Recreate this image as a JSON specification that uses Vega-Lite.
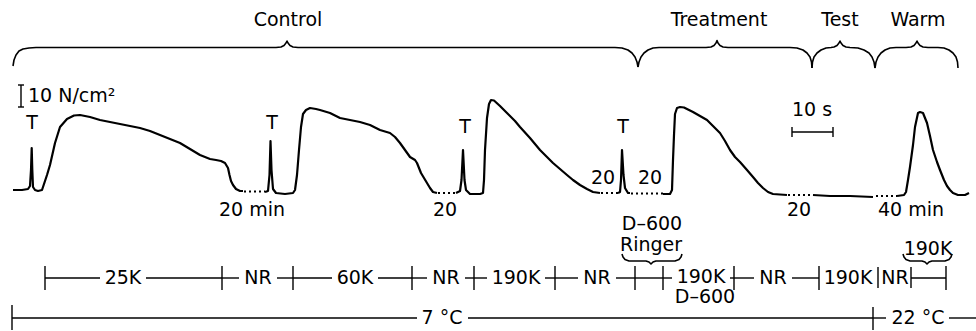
{
  "$schema": "https://vega.github.io/schema/vega-lite/v6.json",
  "width": 976,
  "height": 331,
  "padding": 0,
  "autosize": {"type": "none"},
  "background": "white",
  "config": {"view": {"stroke": null}},
  "datasets": {
    "trace": [
      {"g": "a", "x": 13, "y": 190}, {"g": "a", "x": 22, "y": 190}, {"g": "a", "x": 28, "y": 189}, {"g": "a", "x": 30, "y": 186},
      {"g": "a", "x": 31, "y": 170}, {"g": "a", "x": 31.7, "y": 148}, {"g": "a", "x": 32.3, "y": 170}, {"g": "a", "x": 33, "y": 187},
      {"g": "a", "x": 35, "y": 190}, {"g": "a", "x": 38, "y": 191}, {"g": "a", "x": 42, "y": 190}, {"g": "a", "x": 43, "y": 187},
      {"g": "a", "x": 47, "y": 175}, {"g": "a", "x": 50, "y": 165}, {"g": "a", "x": 55, "y": 143}, {"g": "a", "x": 60, "y": 127},
      {"g": "a", "x": 67, "y": 119}, {"g": "a", "x": 74, "y": 115.5}, {"g": "a", "x": 80, "y": 115}, {"g": "a", "x": 90, "y": 117},
      {"g": "a", "x": 100, "y": 120}, {"g": "a", "x": 110, "y": 122}, {"g": "a", "x": 120, "y": 124}, {"g": "a", "x": 130, "y": 126},
      {"g": "a", "x": 140, "y": 128}, {"g": "a", "x": 150, "y": 131}, {"g": "a", "x": 160, "y": 135}, {"g": "a", "x": 170, "y": 139},
      {"g": "a", "x": 180, "y": 143}, {"g": "a", "x": 190, "y": 149}, {"g": "a", "x": 200, "y": 155}, {"g": "a", "x": 210, "y": 159},
      {"g": "a", "x": 216, "y": 160}, {"g": "a", "x": 221, "y": 161}, {"g": "a", "x": 225, "y": 163}, {"g": "a", "x": 228, "y": 168},
      {"g": "a", "x": 229.5, "y": 175}, {"g": "a", "x": 231, "y": 181}, {"g": "a", "x": 233, "y": 185}, {"g": "a", "x": 236, "y": 189},
      {"g": "a", "x": 240, "y": 191}, {"g": "a", "x": 243, "y": 191},
      {"g": "b", "x": 265, "y": 192}, {"g": "b", "x": 268, "y": 191}, {"g": "b", "x": 269.5, "y": 175}, {"g": "b", "x": 270.5, "y": 141},
      {"g": "b", "x": 271.5, "y": 170}, {"g": "b", "x": 273, "y": 189}, {"g": "b", "x": 276, "y": 193}, {"g": "b", "x": 285, "y": 194},
      {"g": "b", "x": 293, "y": 193}, {"g": "b", "x": 295, "y": 190}, {"g": "b", "x": 297, "y": 175}, {"g": "b", "x": 299, "y": 150},
      {"g": "b", "x": 301, "y": 127}, {"g": "b", "x": 303, "y": 114}, {"g": "b", "x": 306, "y": 110}, {"g": "b", "x": 310, "y": 108},
      {"g": "b", "x": 316, "y": 109}, {"g": "b", "x": 320, "y": 110}, {"g": "b", "x": 330, "y": 113}, {"g": "b", "x": 340, "y": 118},
      {"g": "b", "x": 350, "y": 120}, {"g": "b", "x": 360, "y": 122}, {"g": "b", "x": 370, "y": 125}, {"g": "b", "x": 380, "y": 130},
      {"g": "b", "x": 390, "y": 133}, {"g": "b", "x": 395, "y": 137}, {"g": "b", "x": 400, "y": 143}, {"g": "b", "x": 405, "y": 150},
      {"g": "b", "x": 410, "y": 157}, {"g": "b", "x": 415, "y": 160}, {"g": "b", "x": 417, "y": 163}, {"g": "b", "x": 419, "y": 168},
      {"g": "b", "x": 421, "y": 173}, {"g": "b", "x": 424, "y": 178}, {"g": "b", "x": 427, "y": 183}, {"g": "b", "x": 430, "y": 188},
      {"g": "b", "x": 433, "y": 192}, {"g": "b", "x": 437, "y": 193},
      {"g": "c", "x": 456, "y": 193}, {"g": "c", "x": 460, "y": 191}, {"g": "c", "x": 461.5, "y": 180}, {"g": "c", "x": 463, "y": 150},
      {"g": "c", "x": 464.5, "y": 180}, {"g": "c", "x": 466, "y": 190}, {"g": "c", "x": 470, "y": 194}, {"g": "c", "x": 480, "y": 194},
      {"g": "c", "x": 483, "y": 193}, {"g": "c", "x": 484, "y": 180}, {"g": "c", "x": 485, "y": 150}, {"g": "c", "x": 487, "y": 118},
      {"g": "c", "x": 489, "y": 104}, {"g": "c", "x": 491, "y": 100}, {"g": "c", "x": 494, "y": 100.5}, {"g": "c", "x": 500, "y": 106},
      {"g": "c", "x": 507, "y": 113}, {"g": "c", "x": 515, "y": 121}, {"g": "c", "x": 520, "y": 127}, {"g": "c", "x": 530, "y": 138},
      {"g": "c", "x": 540, "y": 150}, {"g": "c", "x": 547, "y": 157}, {"g": "c", "x": 553, "y": 163}, {"g": "c", "x": 560, "y": 169},
      {"g": "c", "x": 567, "y": 175}, {"g": "c", "x": 573, "y": 180}, {"g": "c", "x": 580, "y": 185}, {"g": "c", "x": 587, "y": 189},
      {"g": "c", "x": 593, "y": 192}, {"g": "c", "x": 600, "y": 193},
      {"g": "d", "x": 618, "y": 193}, {"g": "d", "x": 620, "y": 192}, {"g": "d", "x": 621, "y": 180}, {"g": "d", "x": 622, "y": 150},
      {"g": "d", "x": 623.5, "y": 175}, {"g": "d", "x": 625, "y": 188}, {"g": "d", "x": 628, "y": 193}, {"g": "d", "x": 630, "y": 193},
      {"g": "e", "x": 663, "y": 194}, {"g": "e", "x": 670, "y": 194}, {"g": "e", "x": 672, "y": 190}, {"g": "e", "x": 673, "y": 160},
      {"g": "e", "x": 674, "y": 135}, {"g": "e", "x": 675, "y": 114}, {"g": "e", "x": 677, "y": 108}, {"g": "e", "x": 680, "y": 107},
      {"g": "e", "x": 684, "y": 107.5}, {"g": "e", "x": 693, "y": 112}, {"g": "e", "x": 700, "y": 116}, {"g": "e", "x": 707, "y": 120},
      {"g": "e", "x": 713, "y": 126}, {"g": "e", "x": 720, "y": 133}, {"g": "e", "x": 725, "y": 141}, {"g": "e", "x": 730, "y": 150},
      {"g": "e", "x": 735, "y": 157}, {"g": "e", "x": 740, "y": 162}, {"g": "e", "x": 747, "y": 170}, {"g": "e", "x": 753, "y": 177},
      {"g": "e", "x": 758, "y": 183}, {"g": "e", "x": 763, "y": 188}, {"g": "e", "x": 768, "y": 192}, {"g": "e", "x": 773, "y": 194},
      {"g": "e", "x": 787, "y": 195},
      {"g": "f", "x": 813, "y": 195}, {"g": "f", "x": 830, "y": 196}, {"g": "f", "x": 850, "y": 196}, {"g": "f", "x": 873, "y": 197},
      {"g": "h", "x": 897, "y": 196}, {"g": "h", "x": 904, "y": 195}, {"g": "h", "x": 906, "y": 192}, {"g": "h", "x": 908, "y": 180},
      {"g": "h", "x": 910, "y": 167}, {"g": "h", "x": 913, "y": 145}, {"g": "h", "x": 915, "y": 127}, {"g": "h", "x": 918, "y": 113},
      {"g": "h", "x": 920, "y": 112}, {"g": "h", "x": 923, "y": 113}, {"g": "h", "x": 925, "y": 118}, {"g": "h", "x": 927, "y": 123},
      {"g": "h", "x": 930, "y": 136}, {"g": "h", "x": 933, "y": 150}, {"g": "h", "x": 937, "y": 162}, {"g": "h", "x": 940, "y": 170},
      {"g": "h", "x": 944, "y": 180}, {"g": "h", "x": 947, "y": 186}, {"g": "h", "x": 950, "y": 190}, {"g": "h", "x": 953, "y": 193},
      {"g": "h", "x": 958, "y": 195}, {"g": "h", "x": 965, "y": 195}, {"g": "h", "x": 969, "y": 193}
    ],
    "dots": [
      {"x": 244, "x2": 265, "y": 191.5},
      {"x": 438, "x2": 456, "y": 193},
      {"x": 601, "x2": 618, "y": 193},
      {"x": 631, "x2": 663, "y": 193.5},
      {"x": 788, "x2": 812, "y": 195},
      {"x": 876, "x2": 897, "y": 196}
    ],
    "braces": [
      {"g": "control", "x": 13, "y": 66}, {"g": "control", "x": 14, "y": 60}, {"g": "control", "x": 16, "y": 55}, {"g": "control", "x": 19, "y": 51},
      {"g": "control", "x": 23, "y": 49}, {"g": "control", "x": 29, "y": 48}, {"g": "control", "x": 36, "y": 47.5}, {"g": "control", "x": 276, "y": 47.5},
      {"g": "control", "x": 281, "y": 47}, {"g": "control", "x": 284, "y": 45.5}, {"g": "control", "x": 286, "y": 43}, {"g": "control", "x": 287, "y": 41},
      {"g": "control", "x": 288, "y": 43}, {"g": "control", "x": 290, "y": 45.5}, {"g": "control", "x": 293, "y": 47}, {"g": "control", "x": 298, "y": 47.5},
      {"g": "control", "x": 615, "y": 47.5}, {"g": "control", "x": 622, "y": 48}, {"g": "control", "x": 628, "y": 50}, {"g": "control", "x": 632, "y": 53},
      {"g": "control", "x": 635, "y": 57}, {"g": "control", "x": 637, "y": 62}, {"g": "control", "x": 638, "y": 67},
      {"g": "treat", "x": 638, "y": 67}, {"g": "treat", "x": 639, "y": 62}, {"g": "treat", "x": 641, "y": 57}, {"g": "treat", "x": 644, "y": 53},
      {"g": "treat", "x": 648, "y": 50}, {"g": "treat", "x": 653, "y": 48}, {"g": "treat", "x": 659, "y": 47.5}, {"g": "treat", "x": 706, "y": 47.5},
      {"g": "treat", "x": 711, "y": 47}, {"g": "treat", "x": 714, "y": 45.5}, {"g": "treat", "x": 716, "y": 43}, {"g": "treat", "x": 717, "y": 40.5},
      {"g": "treat", "x": 718, "y": 43}, {"g": "treat", "x": 720, "y": 45.5}, {"g": "treat", "x": 723, "y": 47}, {"g": "treat", "x": 728, "y": 47.5},
      {"g": "treat", "x": 790, "y": 47.5}, {"g": "treat", "x": 797, "y": 48}, {"g": "treat", "x": 803, "y": 50}, {"g": "treat", "x": 807, "y": 53},
      {"g": "treat", "x": 810, "y": 57}, {"g": "treat", "x": 811.5, "y": 62}, {"g": "treat", "x": 812, "y": 68},
      {"g": "test", "x": 812, "y": 68}, {"g": "test", "x": 812.5, "y": 62}, {"g": "test", "x": 814, "y": 57}, {"g": "test", "x": 817, "y": 53},
      {"g": "test", "x": 821, "y": 50}, {"g": "test", "x": 826, "y": 48}, {"g": "test", "x": 831, "y": 47.5}, {"g": "test", "x": 834, "y": 47},
      {"g": "test", "x": 837, "y": 45.5}, {"g": "test", "x": 839, "y": 43}, {"g": "test", "x": 840, "y": 41}, {"g": "test", "x": 841, "y": 43},
      {"g": "test", "x": 843, "y": 45.5}, {"g": "test", "x": 846, "y": 47}, {"g": "test", "x": 850, "y": 47.5}, {"g": "test", "x": 858, "y": 48},
      {"g": "test", "x": 864, "y": 50}, {"g": "test", "x": 869, "y": 53}, {"g": "test", "x": 872, "y": 57}, {"g": "test", "x": 874, "y": 62},
      {"g": "test", "x": 875, "y": 68},
      {"g": "warm", "x": 875, "y": 68}, {"g": "warm", "x": 876, "y": 62}, {"g": "warm", "x": 878, "y": 57}, {"g": "warm", "x": 881, "y": 53},
      {"g": "warm", "x": 885, "y": 50}, {"g": "warm", "x": 890, "y": 48}, {"g": "warm", "x": 896, "y": 47.5}, {"g": "warm", "x": 906, "y": 47.5},
      {"g": "warm", "x": 911, "y": 47}, {"g": "warm", "x": 914, "y": 45.5}, {"g": "warm", "x": 916, "y": 43}, {"g": "warm", "x": 917, "y": 41},
      {"g": "warm", "x": 918, "y": 43}, {"g": "warm", "x": 920, "y": 45.5}, {"g": "warm", "x": 923, "y": 47}, {"g": "warm", "x": 928, "y": 47.5},
      {"g": "warm", "x": 938, "y": 47.5}, {"g": "warm", "x": 944, "y": 48}, {"g": "warm", "x": 949, "y": 50}, {"g": "warm", "x": 953, "y": 53},
      {"g": "warm", "x": 956, "y": 57}, {"g": "warm", "x": 957.5, "y": 62}, {"g": "warm", "x": 958, "y": 68},
      {"g": "ringer", "x": 622, "y": 254}, {"g": "ringer", "x": 623, "y": 257}, {"g": "ringer", "x": 625, "y": 259.5}, {"g": "ringer", "x": 629, "y": 261},
      {"g": "ringer", "x": 646, "y": 261}, {"g": "ringer", "x": 649, "y": 262}, {"g": "ringer", "x": 651, "y": 264}, {"g": "ringer", "x": 653, "y": 262},
      {"g": "ringer", "x": 656, "y": 261}, {"g": "ringer", "x": 675, "y": 261}, {"g": "ringer", "x": 679, "y": 259.5}, {"g": "ringer", "x": 681, "y": 257},
      {"g": "ringer", "x": 682, "y": 254},
      {"g": "k190", "x": 903, "y": 254}, {"g": "k190", "x": 904, "y": 257}, {"g": "k190", "x": 906, "y": 259.5}, {"g": "k190", "x": 910, "y": 261},
      {"g": "k190", "x": 922, "y": 261}, {"g": "k190", "x": 925, "y": 262}, {"g": "k190", "x": 927, "y": 264}, {"g": "k190", "x": 929, "y": 262},
      {"g": "k190", "x": 932, "y": 261}, {"g": "k190", "x": 945, "y": 261}, {"g": "k190", "x": 949, "y": 259.5}, {"g": "k190", "x": 951, "y": 257},
      {"g": "k190", "x": 952, "y": 254}
    ],
    "hsegs": [
      {"x": 45, "x2": 100, "y": 278}, {"x": 146, "x2": 222, "y": 278}, {"x": 222, "x2": 239, "y": 278},
      {"x": 277, "x2": 293, "y": 278}, {"x": 293, "x2": 332, "y": 278}, {"x": 378, "x2": 412, "y": 278},
      {"x": 412, "x2": 427, "y": 278}, {"x": 465, "x2": 474, "y": 278}, {"x": 474, "x2": 487, "y": 278},
      {"x": 545, "x2": 555, "y": 278}, {"x": 555, "x2": 578, "y": 278}, {"x": 616, "x2": 635, "y": 278},
      {"x": 635, "x2": 663, "y": 278}, {"x": 663, "x2": 672, "y": 278}, {"x": 730, "x2": 734, "y": 278},
      {"x": 734, "x2": 754, "y": 278}, {"x": 792, "x2": 819, "y": 278}, {"x": 911, "x2": 946, "y": 278},
      {"x": 12, "x2": 417, "y": 318}, {"x": 468, "x2": 873, "y": 318}, {"x": 873, "x2": 886, "y": 318},
      {"x": 949, "x2": 976, "y": 318},
      {"x": 792, "x2": 833, "y": 132},
      {"x": 18, "x2": 24, "y": 85}, {"x": 18, "x2": 24, "y": 107}
    ],
    "vticks": [
      {"x": 45, "y": 266, "y2": 290}, {"x": 222, "y": 266, "y2": 290}, {"x": 293, "y": 266, "y2": 290},
      {"x": 412, "y": 266, "y2": 290}, {"x": 474, "y": 266, "y2": 290}, {"x": 555, "y": 266, "y2": 290},
      {"x": 635, "y": 266, "y2": 290}, {"x": 663, "y": 266, "y2": 290}, {"x": 734, "y": 266, "y2": 290},
      {"x": 819, "y": 266, "y2": 290}, {"x": 878, "y": 267, "y2": 288}, {"x": 911, "y": 267, "y2": 288},
      {"x": 946, "y": 266, "y2": 290},
      {"x": 12, "y": 305, "y2": 330}, {"x": 873, "y": 307, "y2": 330},
      {"x": 792, "y": 127, "y2": 137}, {"x": 833, "y": 127, "y2": 137},
      {"x": 21, "y": 85, "y2": 107}
    ],
    "texts": [
      {"x": 288, "y": 20, "t": "Control"}, {"x": 719, "y": 20, "t": "Treatment"},
      {"x": 840, "y": 20, "t": "Test"}, {"x": 918, "y": 20, "t": "Warm"},
      {"x": 32, "y": 123, "t": "T"}, {"x": 272, "y": 123, "t": "T"}, {"x": 465, "y": 127, "t": "T"}, {"x": 623, "y": 127, "t": "T"},
      {"x": 252, "y": 210, "t": "20 min"}, {"x": 445, "y": 210, "t": "20"}, {"x": 603, "y": 178, "t": "20"},
      {"x": 650, "y": 178, "t": "20"}, {"x": 799, "y": 210, "t": "20"}, {"x": 911, "y": 210, "t": "40 min"},
      {"x": 812, "y": 110, "t": "10 s"},
      {"x": 652, "y": 224, "t": "D–600"}, {"x": 651, "y": 245, "t": "Ringer"},
      {"x": 123, "y": 278, "t": "25K"}, {"x": 258, "y": 278, "t": "NR"}, {"x": 355, "y": 278, "t": "60K"},
      {"x": 446, "y": 278, "t": "NR"}, {"x": 516, "y": 278, "t": "190K"}, {"x": 597, "y": 278, "t": "NR"},
      {"x": 701, "y": 277, "t": "190K"}, {"x": 773, "y": 278, "t": "NR"}, {"x": 848, "y": 278, "t": "190K"},
      {"x": 895, "y": 278, "t": "NR"},
      {"x": 928, "y": 249, "t": "190K"}, {"x": 705, "y": 297, "t": "D–600"},
      {"x": 442, "y": 318, "t": "7 °C"}, {"x": 918, "y": 318, "t": "22 °C"}
    ],
    "ltexts": [
      {"x": 28, "y": 96, "t": "10 N/cm²"}
    ]
  },
  "layer": [
    {
      "data": {"name": "trace"},
      "mark": {"type": "line", "color": "black", "strokeWidth": 2.2, "strokeJoin": "round"},
      "encoding": {
        "x": {"field": "x", "type": "quantitative", "scale": {"domain": [0, 976], "nice": false, "zero": false}, "axis": null},
        "y": {"field": "y", "type": "quantitative", "scale": {"domain": [0, 331], "nice": false, "zero": false, "reverse": true}, "axis": null},
        "detail": {"field": "g"}
      }
    },
    {
      "data": {"name": "dots"},
      "mark": {"type": "rule", "color": "black", "strokeWidth": 2, "strokeDash": [2, 3]},
      "encoding": {
        "x": {"field": "x", "type": "quantitative"},
        "x2": {"field": "x2"},
        "y": {"field": "y", "type": "quantitative"}
      }
    },
    {
      "data": {"name": "braces"},
      "mark": {"type": "line", "color": "black", "strokeWidth": 1.6, "strokeJoin": "round"},
      "encoding": {
        "x": {"field": "x", "type": "quantitative"},
        "y": {"field": "y", "type": "quantitative"},
        "detail": {"field": "g"}
      }
    },
    {
      "data": {"name": "hsegs"},
      "mark": {"type": "rule", "color": "black", "strokeWidth": 1.4},
      "encoding": {
        "x": {"field": "x", "type": "quantitative"},
        "x2": {"field": "x2"},
        "y": {"field": "y", "type": "quantitative"}
      }
    },
    {
      "data": {"name": "vticks"},
      "mark": {"type": "rule", "color": "black", "strokeWidth": 1.4},
      "encoding": {
        "x": {"field": "x", "type": "quantitative"},
        "y": {"field": "y", "type": "quantitative"},
        "y2": {"field": "y2"}
      }
    },
    {
      "data": {"name": "texts"},
      "mark": {"type": "text", "font": "DejaVu Sans", "fontSize": 19, "color": "black", "align": "center", "baseline": "middle"},
      "encoding": {
        "x": {"field": "x", "type": "quantitative"},
        "y": {"field": "y", "type": "quantitative"},
        "text": {"field": "t"}
      }
    },
    {
      "data": {"name": "ltexts"},
      "mark": {"type": "text", "font": "DejaVu Sans", "fontSize": 19, "color": "black", "align": "left", "baseline": "middle"},
      "encoding": {
        "x": {"field": "x", "type": "quantitative"},
        "y": {"field": "y", "type": "quantitative"},
        "text": {"field": "t"}
      }
    }
  ]
}
